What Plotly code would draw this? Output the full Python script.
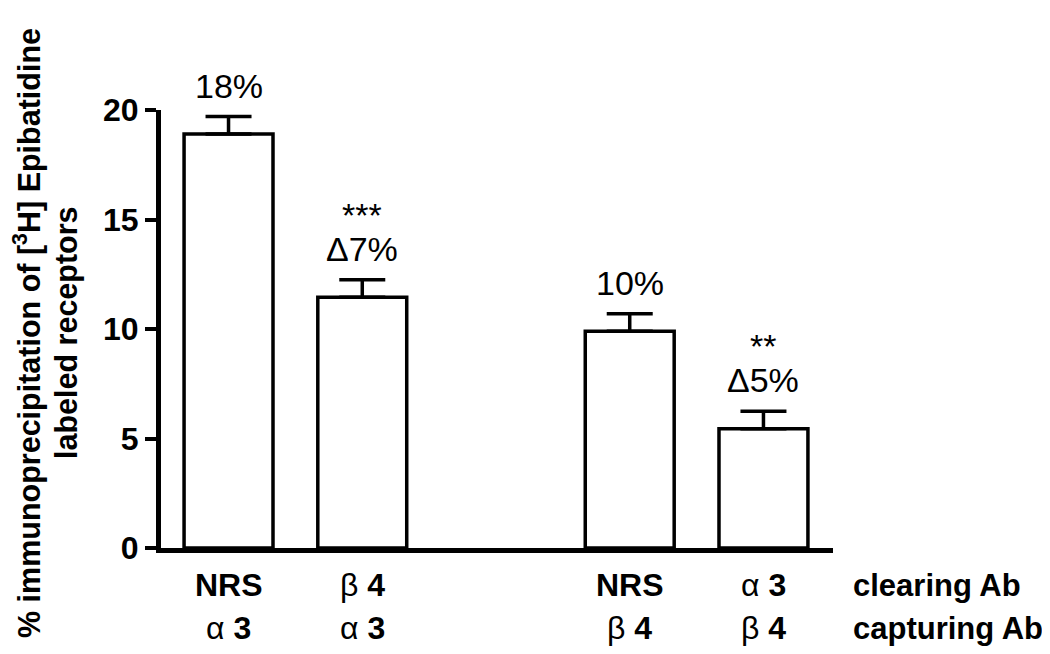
import plotly.graph_objects as go

positions = [0, 1, 3, 4]
values = [18.9, 11.45, 9.9, 5.45]
errors = [0.8, 0.8, 0.8, 0.8]
clearing = ["<b>NRS</b>", "β <b>4</b>", "<b>NRS</b>", "α <b>3</b>"]
capturing = ["α <b>3</b>", "α <b>3</b>", "β <b>4</b>", "β <b>4</b>"]
stars = ["", "***", "", "**"]
pct = ["18%", "Δ7%", "10%", "Δ5%"]
yticks = [0, 5, 10, 15, 20]
ytitle = ["<b>% immunoprecipitation of [<sup>3</sup>H] Epibatidine</b>", "<b>labeled receptors</b>"]

FONT = "Liberation Sans, Arial, sans-serif"

fig = go.Figure()
fig.add_trace(go.Bar(
    x=positions, y=values, width=0.665,
    marker=dict(color="white", line=dict(color="black", width=3.5)),
    error_y=dict(type="data", symmetric=False, array=errors,
                 arrayminus=[0] * len(errors), color="black",
                 thickness=3.5, width=23),
    showlegend=False,
))

ann = []
for x, v, e, s, p in zip(positions, values, errors, stars, pct):
    top = v + e
    ann.append(dict(x=x, y=top, xref="x", yref="y", text=p, showarrow=False,
                    yanchor="bottom", yshift=10,
                    font=dict(family=FONT, size=34, color="black")))
    if s:
        ann.append(dict(x=x, y=top, xref="x", yref="y", text=s, showarrow=False,
                        yanchor="bottom", yshift=44,
                        font=dict(family=FONT, size=34, color="black")))
for x, c1, c2 in zip(positions, clearing, capturing):
    ann.append(dict(x=x, y=0, xref="x", yref="y", text=c1, showarrow=False,
                    yanchor="middle", yshift=-37,
                    font=dict(family=FONT, size=32, color="black")))
    ann.append(dict(x=x, y=0, xref="x", yref="y", text=c2, showarrow=False,
                    yanchor="middle", yshift=-80,
                    font=dict(family=FONT, size=32, color="black")))
ann.append(dict(x=1.0, y=0, xref="paper", yref="y", text="<b>clearing Ab</b>",
                showarrow=False, xanchor="left", yanchor="middle", xshift=18, yshift=-37,
                font=dict(family=FONT, size=31, color="black")))
ann.append(dict(x=1.0, y=0, xref="paper", yref="y", text="<b>capturing Ab</b>",
                showarrow=False, xanchor="left", yanchor="middle", xshift=18, yshift=-80,
                font=dict(family=FONT, size=31, color="black")))
for txt, xs in zip(ytitle, [-134, -95]):
    ann.append(dict(x=0, y=0.5, xref="paper", yref="paper", text=txt, textangle=-90,
                    showarrow=False, xanchor="center", yanchor="middle", xshift=xs, yshift=-4,
                    font=dict(family=FONT, size=30.5, color="black")))

fig.update_layout(
    width=1050, height=654,
    margin=dict(l=153, r=225, t=102, b=114, autoexpand=False),
    plot_bgcolor="white", paper_bgcolor="white",
    annotations=ann,
    font=dict(family=FONT, color="black"),
)
fig.update_xaxes(range=[-0.505, 4.52], showticklabels=False, ticks="",
                 showline=True, linecolor="black", linewidth=5,
                 showgrid=False, zeroline=False, fixedrange=True, automargin=False)
fig.update_yaxes(range=[0, 20], tickvals=yticks,
                 ticktext=[f"<b>{t}</b>" for t in yticks],
                 ticks="outside", ticklen=11, tickwidth=4, tickcolor="black",
                 tickfont=dict(family=FONT, size=32, color="black"),
                 showline=True, linecolor="black", linewidth=5,
                 showgrid=False, zeroline=False, automargin=False)

fig.write_html("out.html")
